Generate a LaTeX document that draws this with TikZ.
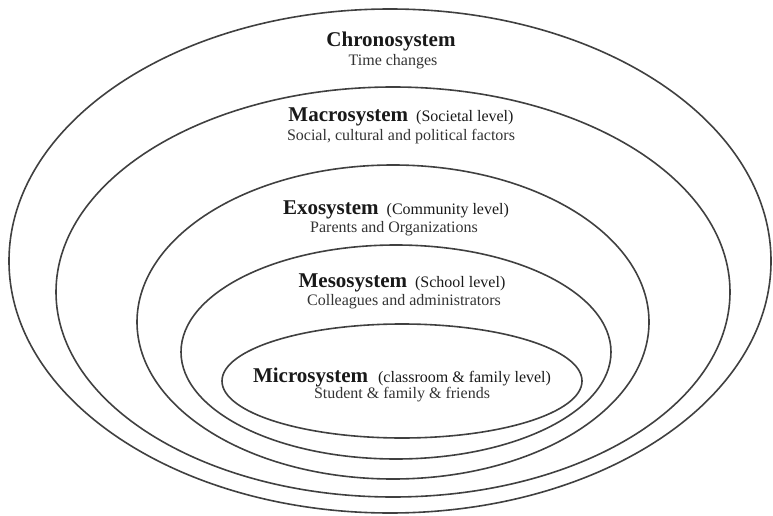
\documentclass[tikz,border=0pt]{standalone}
\usepackage{fontspec}
\setmainfont{Liberation Serif}
\usepackage{tikz}

\begin{document}
\begin{tikzpicture}[x=1pt, y=1pt, line width = 1.6pt,
    ring/.style={draw=black!75},
    label/.style={inner sep=0pt, text=black!80, font=\fontsize{16}{18}\selectfont},
    title/.style={label, text=black!90}]

  \useasboundingbox (0,0) rectangle (773,515);

  % the five systems, outside in
  \draw[ring] (390,254) ellipse (381 and 252);
  \draw[ring] (393,223) ellipse (337 and 205);
  \draw[ring] (393,193) ellipse (256 and 157);
  \draw[ring] (396,163) ellipse (215 and 107);
  \draw[ring] (402,134) ellipse (180 and 57);

  \node[title] (chrono) at (391,474){\fontsize{21}{24}\selectfont\bfseries Chronosystem};
  \node[label] (chronosub) at (393,453){Time changes};

  \node[title] (macro) at (401,398){{\fontsize{21}{24}\selectfont\bfseries Macrosystem}\hspace{8pt}(Societal level)};
  \node[label] (macrosub) at (401,378){Social, cultural and political factors};

  \node[title] (exo) at (396,305){{\fontsize{21}{24}\selectfont\bfseries Exosystem}\hspace{8pt}(Community level)};
  \node[label] (exosub) at (394,286){Parents and Organizations};

  \node[title] (meso) at (402,232){{\fontsize{21}{24}\selectfont\bfseries Mesosystem}\hspace{8pt}(School level)};
  \node[label] (mesosub) at (404,213){Colleagues and administrators};

  \node[title] (micro) at (402,138){{\fontsize{21}{24}\selectfont\bfseries Microsystem}\hspace{10pt}(classroom \& family level)};
  \node[label] (microsub) at (402,120){Student \& family \& friends};

\end{tikzpicture}
\end{document}
